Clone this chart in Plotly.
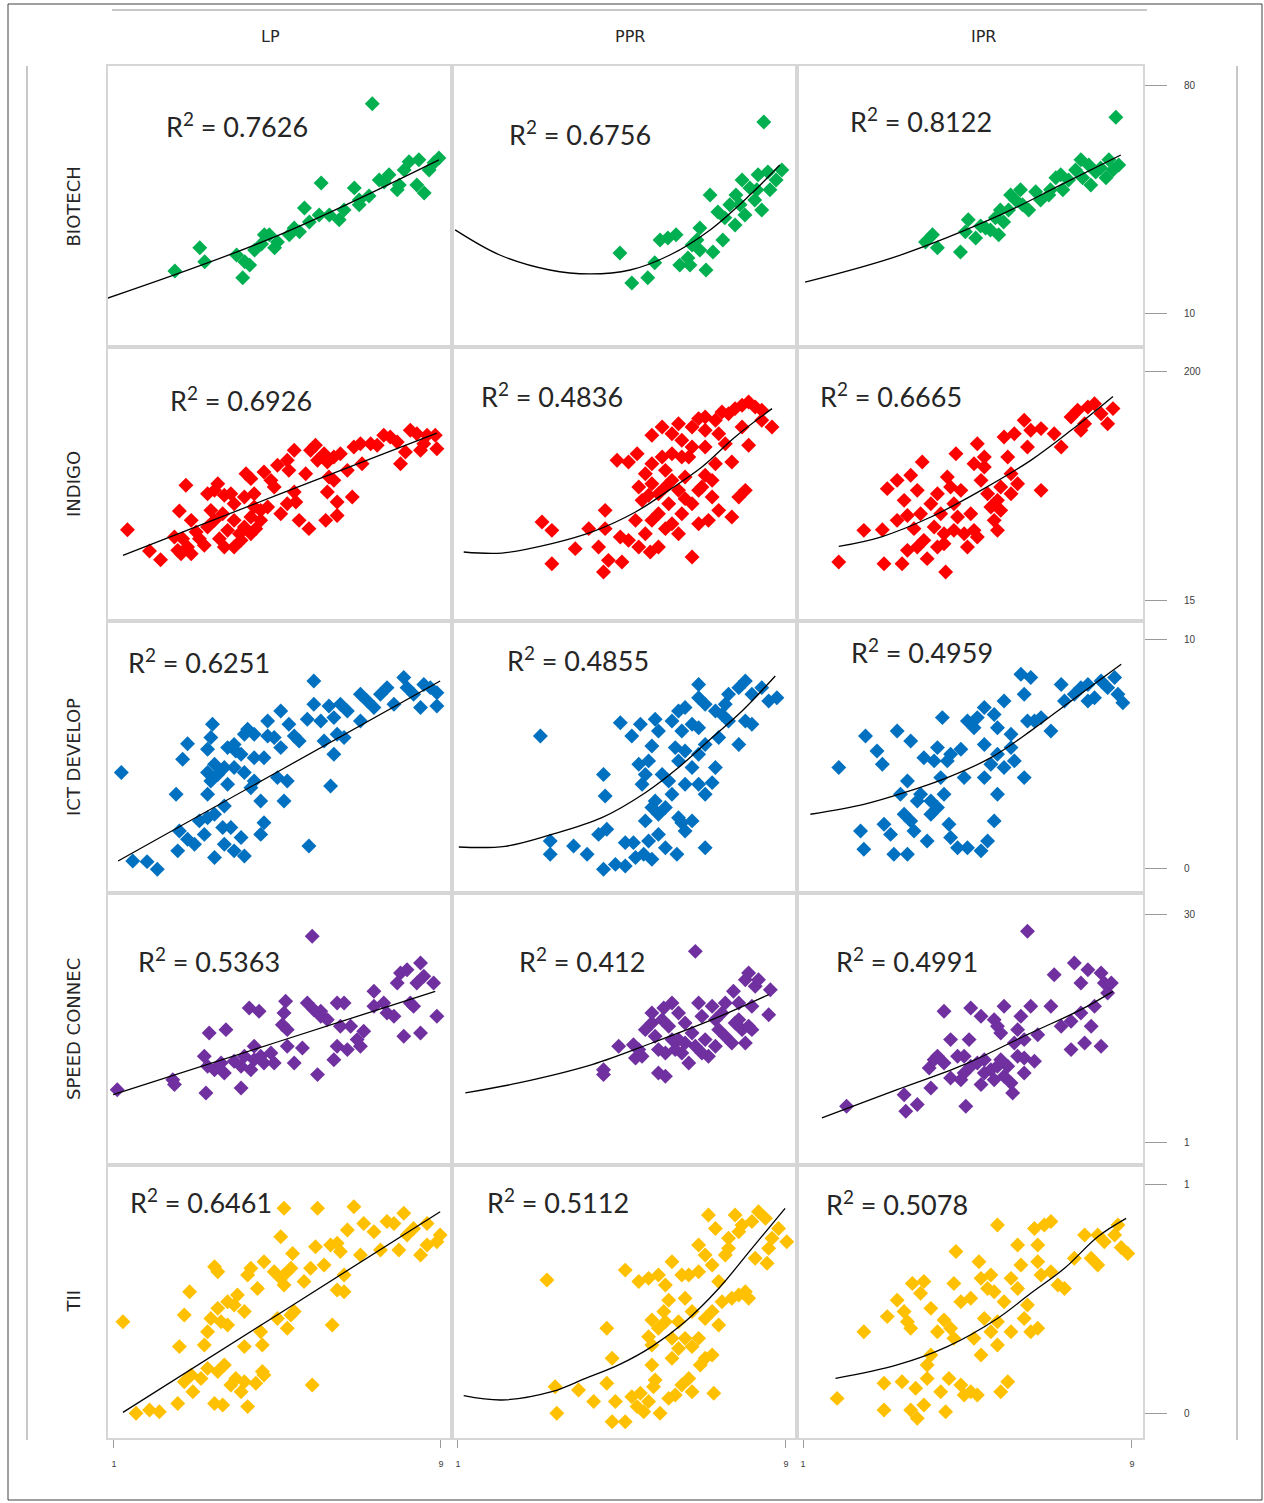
import plotly.graph_objects as go
from plotly.subplots import make_subplots

# ------------------------------------------------------------------ data
row_names = ["BIOTECH", "INDIGO", "ICT DEVELOP", "SPEED CONNEC", "TII"]
col_names = ["LP", "PPR", "IPR"]
r2_values = [["0.7626", "0.6756", "0.8122"],
             ["0.6926", "0.4836", "0.6665"],
             ["0.6251", "0.4855", "0.4959"],
             ["0.5363", "0.412", "0.4991"],
             ["0.6461", "0.5112", "0.5078"]]
row_colors = ["#00B050", "#FF0000", "#0070C0", "#7030A0", "#FFC000"]
y_tick_values = [[10, 80], [15, 200], [0, 10], [1, 30], [0, 1]]
x_tick_values = [1, 9]

# BIOTECH
bio_lp = [(2.49,23.2),(3.10,30.3),(3.22,26.0),(4.00,28.1),(4.15,21.1),(4.20,26.0),(4.44,29.6),(4.61,31.5),(4.80,34.3),(5.00,32.1),(5.29,34.3),(5.41,36.4),(5.78,38.2),(5.66,42.5),(6.07,50.2),(6.02,40.4),(6.27,40.4),(6.51,38.9),(6.63,41.9),(6.88,48.7),(7.00,45.0),(7.24,46.2),(7.32,74.5),(7.49,51.1),(7.73,52.7),(7.93,48.1),(8.10,54.2),(8.22,56.7),(8.46,57.3),(8.41,49.6),(8.59,47.1),(8.71,54.2),(8.83,56.4),(8.95,57.9),(7.98,49.6),(7.61,50.5),(7.00,43.5),(5.54,35.2),(4.93,30.3),(4.32,25.0),(4.68,34.3)]
bio_ppr = [(4.95,28.7),(5.24,19.5),(5.63,21.1),(5.80,25.7),(5.93,32.7),(6.12,33.3),(6.32,34.3),(6.41,25.0),(6.61,27.2),(6.71,31.2),(6.83,32.7),(6.90,36.4),(7.05,23.5),(7.15,46.5),(7.22,29.0),(7.34,41.3),(7.51,39.5),(7.63,43.5),(7.78,46.5),(7.93,51.1),(8.00,40.4),(8.12,48.7),(8.24,45.0),(8.32,52.7),(8.41,41.9),(8.56,53.6),(8.61,48.1),(8.76,51.1),(8.90,54.2),(8.46,68.9),(6.66,25.0),(6.90,29.6),(7.46,32.7),(7.88,43.5),(8.29,48.1),(7.76,37.3)]
bio_ipr = [(3.98,32.1),(4.15,34.3),(4.27,30.3),(4.83,29.0),(4.95,35.2),(5.02,38.9),(5.20,33.3),(5.32,37.0),(5.44,36.4),(5.56,35.8),(5.68,39.5),(5.76,34.3),(5.88,38.2),(6.00,41.9),(6.05,46.5),(6.17,45.0),(6.29,48.1),(6.34,43.5),(6.49,41.9),(6.66,47.5),(6.78,45.0),(6.98,46.5),(7.15,51.8),(7.32,48.1),(7.46,51.1),(7.63,54.2),(7.76,57.3),(7.80,51.8),(7.95,55.7),(8.00,49.6),(8.12,53.6),(8.24,54.8),(8.37,51.8),(8.44,57.3),(8.54,54.2),(8.68,55.7),(8.61,70.4),(7.02,48.1),(5.80,41.9),(7.27,52.7)]
bio_lp_trend = [(0.85,14.9),(4.90,33.5),(8.95,57.3)]
bio_ppr_trend = [(0.93,35.8),(2.02,28.1),(3.24,23.5),(4.22,22.3),(5.20,23.5),(6.17,28.1),(7.15,35.8),(8.12,46.5),(8.85,55.7)]
bio_ipr_trend = [(1.05,19.8),(3.37,28.1),(5.80,40.4),(7.27,49.6),(8.73,58.8)]

# INDIGO
ind_lp = [(1.33,72.0),(1.87,54.8),(2.14,47.7),(2.76,108.0),(2.60,87.2),(2.89,79.6),(2.64,52.6),(2.80,58.0),(2.68,64.8),(3.01,70.2),(3.21,59.4),(3.29,74.2),(3.46,79.6),(3.58,64.8),(3.66,85.0),(3.78,71.5),(3.94,79.6),(4.07,68.8),(4.19,74.2),(4.35,82.3),(4.47,72.9),(4.59,79.6),(3.46,103.9),(3.54,109.3),(3.70,99.9),(3.86,101.2),(3.29,101.2),(3.94,93.1),(4.23,117.4),(4.35,113.4),(4.19,98.5),(4.43,101.2),(4.67,118.8),(4.84,112.0),(4.92,106.6),(4.76,90.4),(5.08,85.0),(5.00,124.2),(5.24,128.2),(5.41,136.3),(5.28,120.1),(5.41,102.6),(5.24,93.1),(5.45,94.4),(5.53,79.6),(5.77,72.9),(5.69,117.4),(5.81,136.3),(5.93,140.4),(5.98,128.2),(6.14,133.6),(6.22,126.9),(6.38,130.9),(6.54,133.6),(6.71,120.1),(6.26,114.7),(6.38,112.0),(6.22,102.6),(6.46,94.4),(6.83,98.5),(6.46,83.6),(6.18,79.6),(6.87,139.0),(7.03,141.7),(7.07,125.5),(7.28,141.7),(7.44,140.4),(7.60,148.5),(7.76,147.1),(7.93,143.0),(8.01,125.5),(8.13,135.0),(8.25,152.5),(8.41,149.8),(8.50,136.3),(8.66,148.5),(8.86,148.5),(8.90,137.6),(8.58,141.7),(2.48,66.1),(2.56,55.3),(2.89,52.6),(3.09,64.8),(3.70,58.0),(3.94,58.0),(4.35,68.8),(4.59,87.7),(4.11,63.4),(3.37,87.7),(4.43,90.4)]
ind_ppr = [(3.05,78.3),(3.29,71.5),(3.29,44.5),(3.86,56.7),(4.19,72.9),(4.43,58.0),(4.59,87.7),(4.59,72.9),(4.67,47.2),(4.55,37.8),(5.00,45.9),(4.88,128.2),(5.16,126.9),(5.37,133.6),(4.96,66.1),(5.16,63.4),(5.33,79.6),(5.41,58.0),(5.69,54.0),(5.57,68.8),(5.73,79.6),(5.89,85.0),(6.06,72.9),(6.22,76.9),(5.73,148.5),(5.98,155.2),(6.22,149.8),(6.38,157.9),(6.46,144.4),(6.71,155.2),(6.87,162.0),(7.03,163.3),(7.28,160.6),(7.44,167.4),(7.60,166.0),(7.76,170.1),(7.93,172.8),(8.09,175.5),(8.25,171.4),(8.41,168.7),(8.66,155.2),(8.09,140.4),(7.68,126.9),(7.03,139.0),(6.71,139.0),(6.46,130.9),(6.22,133.6),(5.98,130.9),(5.73,125.5),(5.57,117.4),(5.73,109.3),(5.89,101.2),(5.65,99.9),(6.06,106.6),(6.22,112.0),(6.38,103.9),(6.54,97.2),(6.71,93.1),(6.46,85.0),(6.87,103.9),(7.03,116.1),(7.20,112.0),(7.20,98.5),(6.87,76.9),(7.11,79.6),(7.36,87.7),(7.68,82.3),(7.85,98.5),(8.01,103.9),(6.71,49.9),(5.49,95.8),(6.14,93.1),(5.89,58.0),(6.38,68.8),(6.63,130.9),(7.03,152.5),(7.36,149.8),(7.52,141.7),(7.93,155.2),(8.41,160.6),(7.28,125.5),(6.95,106.6),(6.06,120.1),(5.41,106.6),(6.54,114.7)]
ind_ipr = [(1.87,45.9),(2.48,71.5),(2.93,72.0),(2.97,44.5),(3.41,44.5),(4.02,48.6),(4.47,37.8),(3.05,105.3),(3.29,112.0),(3.46,95.8),(3.62,116.1),(3.78,103.9),(3.90,126.9),(3.54,83.6),(3.70,72.9),(3.86,85.0),(3.94,63.4),(3.54,55.3),(3.78,58.0),(4.19,74.2),(4.27,58.0),(4.43,68.8),(4.43,60.7),(4.35,85.0),(4.27,101.2),(4.51,114.7),(4.59,106.6),(4.67,93.1),(4.72,133.6),(4.84,103.9),(4.76,82.3),(4.92,68.8),(5.00,58.0),(5.16,71.5),(5.24,66.1),(5.08,85.0),(5.16,125.5),(5.24,141.7),(5.41,130.9),(5.33,112.0),(5.49,101.2),(5.57,90.4),(5.65,79.6),(5.73,71.5),(5.73,95.8),(5.81,106.6),(5.98,130.9),(6.06,117.4),(6.06,101.2),(5.89,147.1),(6.14,149.8),(6.38,160.6),(6.46,139.0),(6.54,152.5),(6.79,153.9),(7.11,149.8),(7.28,139.0),(6.79,103.9),(7.52,163.3),(7.68,168.7),(7.85,157.9),(7.93,171.4),(8.09,174.1),(8.25,166.0),(8.41,157.9),(8.54,170.1),(7.76,152.5),(6.22,109.3),(4.67,71.5),(4.11,93.1),(3.29,79.6),(5.41,122.8),(5.81,87.7)]
ind_lp_trend = [(1.22,51.3),(5.08,101.2),(8.90,150.3)]
ind_ppr_trend = [(1.14,54.0),(2.07,53.1),(3.29,60.7),(4.27,70.2),(5.33,86.4),(6.14,103.9),(6.95,122.8),(7.76,147.1),(8.66,170.1)]
ind_ipr_trend = [(1.87,58.5),(2.89,66.1),(4.11,82.3),(5.33,103.9),(6.54,128.2),(7.52,152.5),(8.54,180.0)]

# ICT DEVELOP
ict_lp = [(1.18,4.18),(1.46,0.32),(1.81,0.29),(2.06,-0.04),(2.52,3.23),(2.68,4.76),(2.80,5.44),(2.56,0.76),(2.60,1.63),(2.80,1.27),(2.97,1.05),(3.09,2.07),(3.21,1.48),(3.29,2.21),(3.46,2.36),(3.46,0.47),(3.66,1.78),(3.70,2.72),(3.70,1.05),(3.86,1.78),(3.94,0.76),(4.11,1.34),(4.19,0.54),(4.59,1.48),(4.67,1.99),(3.29,3.23),(3.37,3.81),(3.29,4.18),(3.46,4.54),(3.54,4.10),(3.70,4.40),(3.78,3.67),(3.94,4.40),(3.98,5.12),(4.11,4.98),(4.19,4.18),(4.35,3.52),(4.43,3.81),(4.59,2.94),(3.29,5.20),(3.37,5.71),(3.41,6.29),(3.78,5.27),(3.94,5.41),(4.19,5.85),(4.27,6.07),(4.43,4.83),(4.67,4.83),(4.76,6.43),(4.92,5.71),(5.08,5.27),(5.00,3.96),(5.24,3.81),(5.16,2.94),(5.08,6.87),(5.28,6.29),(5.41,5.78),(5.53,5.56),(5.73,6.51),(5.89,7.16),(5.89,8.18),(6.06,6.43),(6.14,5.56),(6.26,7.09),(6.38,6.58),(6.46,5.85),(6.54,7.16),(6.63,5.71),(6.38,4.98),(6.30,3.59),(5.77,0.97),(6.71,6.87),(7.03,7.60),(7.20,7.31),(7.36,7.02),(7.52,7.60),(7.68,7.89),(7.85,7.16),(8.09,8.33),(8.17,7.89),(8.33,7.60),(8.50,7.02),(8.58,8.03),(8.74,7.89),(8.90,7.67),(8.90,7.09),(7.03,6.43),(4.76,5.78),(4.43,5.85)]
ict_ppr = [(3.01,5.78),(3.25,1.19),(3.25,0.61),(3.82,0.97),(4.15,0.61),(4.55,4.10),(4.59,3.16),(4.43,1.48),(4.63,1.70),(4.55,-0.04),(4.84,0.17),(5.08,0.10),(5.08,1.12),(5.28,1.12),(5.33,0.47),(5.53,0.61),(5.57,2.07),(5.65,1.19),(5.73,0.39),(5.89,1.48),(6.06,0.90),(6.34,0.61),(6.46,1.99),(6.71,2.07),(6.54,1.63),(7.03,0.90),(4.96,6.36),(5.24,5.78),(5.45,6.29),(5.41,4.54),(5.49,3.67),(5.65,4.69),(5.73,5.34),(5.81,6.51),(5.89,6.00),(5.98,4.10),(6.14,3.81),(6.22,3.23),(5.81,2.94),(5.73,2.65),(6.06,2.65),(6.38,4.69),(6.54,5.12),(6.71,4.40),(6.87,3.67),(7.03,3.23),(7.20,3.74),(7.28,4.40),(6.87,4.98),(7.03,5.41),(7.36,5.71),(6.46,6.00),(6.71,6.29),(6.87,6.14),(6.22,6.43),(6.38,6.87),(6.54,7.02),(6.87,7.45),(7.03,7.16),(7.28,6.87),(7.52,7.16),(7.60,7.60),(7.85,7.89),(8.01,8.18),(8.17,7.60),(8.41,7.89),(8.58,7.31),(8.78,7.45),(8.17,6.29),(7.85,5.41),(7.60,6.43),(7.44,6.72),(6.87,8.03),(8.01,6.43),(6.30,5.27),(5.57,4.10),(5.89,2.36),(6.54,3.67),(6.38,2.21)]
ict_ipr = [(1.87,4.40),(2.40,1.63),(2.48,0.83),(2.52,5.78),(2.80,5.12),(2.93,4.54),(2.97,1.92),(3.13,1.48),(3.21,0.61),(3.29,6.00),(3.54,0.61),(3.62,5.56),(3.37,3.23),(3.54,3.81),(3.46,2.36),(3.62,2.07),(3.70,1.63),(3.94,4.83),(4.02,1.19),(4.11,2.36),(4.11,2.94),(4.19,4.69),(4.27,5.27),(4.35,3.96),(4.39,6.58),(4.43,3.23),(4.55,1.92),(4.59,1.34),(4.76,0.90),(5.00,0.90),(5.33,0.76),(5.49,1.19),(5.65,2.07),(5.73,3.23),(5.41,3.96),(4.92,3.96),(4.84,5.20),(5.00,6.43),(5.24,6.58),(5.41,7.02),(5.16,6.14),(5.41,5.41),(5.65,6.72),(5.73,6.14),(5.89,7.31),(5.73,4.98),(5.89,4.40),(6.06,5.85),(6.14,4.69),(6.38,3.96),(6.30,8.47),(6.54,8.33),(6.38,7.60),(6.46,6.43),(6.63,6.43),(6.79,6.58),(7.03,6.00),(7.28,8.03),(7.36,7.31),(7.60,7.60),(7.76,7.89),(7.93,8.03),(8.09,7.45),(8.25,8.18),(8.41,7.89),(8.58,8.33),(8.66,7.60),(8.78,7.23),(7.93,7.31),(4.27,2.65),(3.86,3.23),(4.59,4.98),(6.06,5.27),(5.57,4.54),(4.51,4.69),(3.78,2.94)]
ict_lp_trend = [(1.10,0.32),(5.04,4.25),(8.98,8.18)]
ict_ppr_trend = [(1.02,0.93),(2.15,0.96),(3.29,1.48),(4.51,2.21),(5.57,3.30),(6.38,4.40),(7.20,5.71),(7.93,6.87),(8.74,8.40)]
ict_ipr_trend = [(1.18,2.36),(2.48,2.79),(3.46,3.30),(4.51,3.96),(5.57,4.83),(6.54,6.00),(7.52,7.31),(8.74,8.91)]

# SPEED CONNEC
spd_lp = [(1.08,7.70),(2.44,8.97),(2.48,8.34),(3.25,7.28),(3.21,11.94),(3.33,14.90),(3.74,15.33),(3.29,10.67),(3.46,10.24),(3.62,11.09),(3.70,9.82),(4.11,7.91),(3.94,11.30),(4.11,10.67),(4.19,11.94),(4.35,10.24),(4.43,11.51),(4.43,13.21),(4.59,11.94),(4.67,11.09),(4.84,12.36),(4.92,11.09),(4.31,18.08),(4.55,17.66),(5.20,18.93),(5.16,17.45),(5.12,15.96),(5.24,15.33),(5.24,13.21),(5.61,13.00),(5.41,11.09),(5.73,18.72),(5.89,17.87),(5.98,9.61),(6.06,17.02),(6.22,16.60),(6.38,11.51),(6.46,18.72),(6.63,18.72),(6.46,13.21),(6.54,15.75),(6.71,12.79),(6.79,15.75),(6.95,14.06),(7.03,13.21),(7.11,15.12),(7.36,20.20),(7.36,18.29),(7.60,18.72),(7.68,17.45),(7.85,17.02),(7.93,21.26),(8.01,22.53),(8.09,14.48),(8.17,22.95),(8.25,18.72),(8.33,18.29),(8.41,21.26),(8.50,23.80),(8.58,22.11),(8.50,14.90),(8.82,21.26),(8.90,17.02),(6.06,17.66),(5.85,27.19)]
spd_ppr = [(6.79,25.28),(4.55,10.24),(4.55,9.61),(4.92,13.21),(5.28,13.42),(5.33,11.73),(5.49,11.94),(5.57,15.33),(5.73,16.17),(5.81,14.48),(5.89,12.79),(5.89,9.82),(6.06,9.39),(6.02,18.08),(6.22,18.72),(6.38,17.45),(6.14,15.75),(6.22,14.06),(6.30,12.79),(6.46,12.36),(6.54,13.63),(6.63,11.09),(6.54,16.17),(6.71,14.90),(6.87,18.72),(6.95,17.02),(6.79,13.21),(7.03,14.06),(7.11,11.94),(7.20,18.29),(7.28,16.60),(7.36,15.33),(7.44,17.45),(7.52,14.48),(7.68,13.63),(7.76,16.17),(7.85,16.60),(7.93,15.33),(8.01,13.63),(8.09,15.75),(8.17,15.33),(7.72,20.20),(7.85,18.72),(8.01,21.68),(8.09,22.53),(8.25,20.84),(8.33,21.68),(8.17,18.29),(8.62,20.41),(8.58,17.23),(7.52,18.72),(7.28,13.21),(5.73,17.45),(6.06,12.36),(6.38,14.06),(6.95,12.36),(5.41,12.79),(5.98,16.60)]
spd_ipr = [(2.06,5.58),(3.46,7.06),(3.50,4.95),(3.78,5.82),(4.11,7.91),(4.96,5.58),(4.07,10.45),(4.19,11.51),(4.27,11.94),(4.43,11.09),(4.59,9.18),(4.84,8.97),(4.92,11.94),(4.92,9.82),(5.08,10.67),(5.24,11.09),(5.33,8.34),(5.41,9.82),(5.57,10.24),(5.65,8.97),(5.73,10.67),(5.81,11.51),(5.89,9.39),(6.06,8.55),(6.10,7.28),(6.22,11.94),(6.38,9.82),(6.38,11.73),(6.63,11.30),(4.43,17.66),(4.59,14.06),(5.04,14.06),(5.08,18.08),(5.33,17.02),(5.65,16.60),(5.73,15.75),(5.81,14.90),(5.89,18.29),(6.22,15.33),(6.30,17.02),(6.38,14.06),(6.54,18.29),(6.71,14.69),(7.03,18.29),(7.11,22.32),(7.28,15.75),(7.52,16.39),(7.52,12.79),(7.60,23.80),(7.76,21.26),(7.76,17.45),(7.85,13.63),(7.93,22.95),(8.01,15.75),(8.09,18.29),(8.25,22.53),(8.25,13.21),(8.33,21.26),(8.41,20.00),(8.50,21.26),(4.76,11.94),(5.98,10.67),(5.41,11.51),(6.14,13.63),(6.46,27.83)]
spd_lp_trend = [(0.98,7.06),(4.92,13.63),(8.86,20.20)]
spd_ppr_trend = [(1.18,7.28),(2.48,8.55),(4.27,10.88),(5.73,13.63),(7.20,16.60),(8.58,19.78)]
spd_ipr_trend = [(1.46,4.10),(3.29,7.70),(4.92,10.88),(6.54,14.90),(7.76,17.87),(8.54,20.20)]

# TII
tii_lp = [(1.22,0.399),(1.54,-0.001),(1.87,0.013),(2.11,0.006),(2.56,0.042),(2.60,0.290),(2.72,0.428),(2.85,0.530),(3.46,0.639),(2.72,0.137),(2.89,0.166),(2.93,0.093),(3.13,0.151),(3.29,0.195),(3.54,0.181),(3.70,0.210),(3.46,0.042),(3.66,0.035),(3.86,0.122),(3.98,0.151),(4.11,0.093),(4.19,0.137),(4.27,0.028),(4.47,0.130),(4.63,0.181),(4.67,0.166),(3.21,0.297),(3.29,0.355),(3.37,0.413),(3.54,0.457),(3.62,0.399),(3.78,0.384),(3.94,0.472),(4.02,0.515),(4.19,0.443),(4.27,0.603),(4.35,0.632),(4.51,0.544),(4.19,0.290),(4.59,0.355),(4.63,0.297),(4.67,0.661),(4.92,0.617),(5.08,0.588),(5.16,0.559),(5.33,0.632),(5.00,0.413),(5.24,0.370),(5.33,0.428),(5.41,0.443),(5.08,0.770),(5.16,0.894),(5.37,0.697),(5.65,0.574),(5.81,0.632),(5.93,0.726),(5.98,0.894),(6.14,0.646),(6.30,0.734),(6.46,0.741),(6.54,0.705),(6.63,0.603),(6.46,0.537),(6.63,0.530),(6.34,0.384),(5.85,0.122),(6.71,0.799),(6.87,0.901),(7.03,0.690),(7.11,0.828),(7.36,0.792),(7.52,0.712),(7.68,0.836),(7.85,0.828),(7.97,0.712),(8.09,0.872),(8.17,0.777),(8.33,0.806),(8.50,0.690),(8.66,0.828),(8.66,0.734),(8.90,0.748),(8.98,0.777),(3.54,0.617),(3.78,0.486),(5.16,0.603)]
tii_ppr = [(3.17,0.581),(3.37,0.115),(3.41,-0.001),(3.94,0.101),(4.31,0.050),(4.63,0.370),(4.76,0.239),(4.63,0.130),(4.76,-0.038),(4.84,0.050),(5.08,-0.038),(5.24,0.071),(5.37,0.028),(5.45,0.086),(5.53,0.006),(5.65,0.050),(5.73,0.210),(5.77,0.115),(5.81,0.144),(5.93,-0.001),(6.14,0.064),(6.30,0.079),(6.46,0.122),(6.63,0.151),(6.71,0.093),(7.24,0.086),(6.91,0.210),(7.03,0.239),(7.20,0.253),(5.08,0.624),(5.41,0.574),(5.65,0.588),(5.89,0.603),(6.06,0.559),(6.22,0.661),(6.14,0.493),(6.02,0.443),(5.73,0.406),(5.65,0.333),(5.89,0.370),(6.22,0.326),(6.38,0.399),(6.54,0.326),(6.71,0.290),(6.87,0.326),(7.03,0.413),(7.20,0.443),(7.36,0.384),(7.44,0.486),(7.68,0.501),(7.85,0.515),(8.01,0.530),(8.09,0.501),(6.71,0.443),(6.54,0.501),(6.46,0.603),(6.63,0.603),(6.87,0.734),(7.11,0.865),(7.28,0.806),(7.03,0.690),(7.20,0.646),(7.36,0.574),(7.52,0.690),(7.60,0.763),(7.76,0.865),(7.85,0.792),(7.93,0.821),(8.17,0.836),(8.33,0.879),(8.50,0.850),(8.66,0.763),(8.82,0.806),(9.02,0.748),(8.58,0.719),(8.25,0.676),(8.54,0.654),(7.60,0.719),(6.87,0.617),(6.22,0.239),(5.73,0.297),(6.06,0.399),(6.38,0.282)]
tii_ipr = [(1.83,0.064),(2.48,0.355),(2.97,0.130),(2.97,0.013),(3.05,0.421),(3.29,0.493),(3.41,0.137),(3.46,0.443),(3.54,0.399),(3.62,0.370),(3.66,0.566),(3.86,0.523),(3.94,0.574),(3.62,0.013),(3.74,0.108),(3.78,-0.023),(3.94,0.035),(4.02,0.151),(4.02,0.210),(4.11,0.253),(4.11,0.457),(4.35,0.093),(4.43,0.406),(4.47,0.006),(4.55,0.151),(4.59,0.370),(4.67,0.326),(4.72,0.705),(4.67,0.566),(4.84,0.486),(4.84,0.122),(4.92,0.079),(5.08,0.093),(5.24,0.079),(5.33,0.253),(5.16,0.326),(5.08,0.501),(5.28,0.661),(5.33,0.588),(5.41,0.413),(5.49,0.544),(5.57,0.603),(5.65,0.530),(5.73,0.399),(5.73,0.297),(5.81,0.093),(5.98,0.137),(5.89,0.486),(6.06,0.588),(6.22,0.544),(6.22,0.734),(6.30,0.646),(6.38,0.413),(6.46,0.472),(6.54,0.355),(6.63,0.806),(6.71,0.734),(6.71,0.661),(6.79,0.603),(6.87,0.821),(7.03,0.836),(7.03,0.617),(7.20,0.559),(7.36,0.544),(6.71,0.370),(7.60,0.676),(7.85,0.777),(8.01,0.676),(8.17,0.646),(8.17,0.777),(8.33,0.748),(8.58,0.777),(8.66,0.821),(8.74,0.723),(8.90,0.697),(5.73,0.821),(6.06,0.355),(5.57,0.355),(4.27,0.355)]
tii_lp_trend = [(1.22,0.003),(5.08,0.438),(8.98,0.879)]
tii_ppr_trend = [(1.14,0.076),(2.07,0.057),(3.29,0.093),(4.11,0.151),(4.92,0.210),(5.73,0.290),(6.54,0.399),(7.36,0.544),(8.17,0.719),(8.98,0.894)]
tii_ipr_trend = [(1.79,0.151),(3.29,0.210),(4.51,0.290),(5.73,0.413),(6.54,0.523),(7.36,0.632),(8.17,0.770),(8.86,0.850)]

scatter_grid = [[bio_lp, bio_ppr, bio_ipr],
                [ind_lp, ind_ppr, ind_ipr],
                [ict_lp, ict_ppr, ict_ipr],
                [spd_lp, spd_ppr, spd_ipr],
                [tii_lp, tii_ppr, tii_ipr]]
trend_grid = [[bio_lp_trend, bio_ppr_trend, bio_ipr_trend],
              [ind_lp_trend, ind_ppr_trend, ind_ipr_trend],
              [ict_lp_trend, ict_ppr_trend, ict_ipr_trend],
              [spd_lp_trend, spd_ppr_trend, spd_ipr_trend],
              [tii_lp_trend, tii_ppr_trend, tii_ipr_trend]]

# ------------------------------------------------------------------ layout
W, H = 1264, 1503
col_px = [(108, 452), (452, 797), (797, 1143)]
row_px = [(66, 347), (347, 621), (621, 893), (893, 1165), (1165, 1438)]
x_range = [0.854, 9.27]
y_ranges = [[-0.13, 86.1], [-1.9, 220.0], [-1.08, 10.8], [-1.88, 32.7], [-0.109, 1.083]]
r2_pos = [[(0.375, 0.79), (0.371, 0.762), (0.358, 0.808)],
          [(0.387, 0.81), (0.29, 0.825), (0.272, 0.825)],
          [(0.265, 0.853), (0.365, 0.86), (0.361, 0.89)],
          [(0.294, 0.754), (0.377, 0.754), (0.318, 0.754)],
          [(0.27, 0.868), (0.307, 0.868), (0.289, 0.861)]]
header_x = [270, 630, 983]

fig = make_subplots(rows=5, cols=3, horizontal_spacing=0, vertical_spacing=0)

annotations = []
for r in range(5):
    for c in range(3):
        pts = scatter_grid[r][c]
        fig.add_trace(go.Scatter(
            x=[p[0] for p in pts], y=[p[1] for p in pts], mode="markers",
            marker=dict(symbol="diamond", size=11.5, color=row_colors[r],
                        line=dict(width=0)),
            showlegend=False, hoverinfo="skip"), row=r + 1, col=c + 1)
        tr = trend_grid[r][c]
        fig.add_trace(go.Scatter(
            x=[p[0] for p in tr], y=[p[1] for p in tr], mode="lines",
            line=dict(color="#000000", width=1.3, shape="spline", smoothing=1.0),
            showlegend=False, hoverinfo="skip"), row=r + 1, col=c + 1)

        i = r * 3 + c + 1
        xa = "xaxis" if i == 1 else f"xaxis{i}"
        ya = "yaxis" if i == 1 else f"yaxis{i}"
        xl, xr = col_px[c]
        yt, yb = row_px[r]
        xdict = dict(domain=[xl / W, xr / W], range=x_range, showgrid=False,
                     zeroline=False, showline=True, mirror=True,
                     linecolor="#d6d6d6", linewidth=2, showticklabels=False,
                     ticks="")
        if r == 4:
            xdict.update(ticks="outside", tickvals=x_tick_values, ticklen=8,
                         tickcolor="#9a9a9a", tickwidth=1, showticklabels=True,
                         ticklabelstandoff=8,
                         tickfont=dict(size=9, color="#404040", family="Arial"))
        ydict = dict(domain=[1 - yb / H, 1 - yt / H], range=y_ranges[r],
                     showgrid=False, zeroline=False, showline=True, mirror=True,
                     linecolor="#d6d6d6", linewidth=2, showticklabels=False,
                     ticks="")
        if c == 2:
            ydict.update(side="right", ticks="outside", tickvals=y_tick_values[r],
                         ticklen=22, tickcolor="#9a9a9a", tickwidth=1,
                         showticklabels=True, ticklabelstandoff=15,
                         tickfont=dict(size=10, color="#404040", family="Arial"))
        fig.update_layout({xa: xdict, ya: ydict})

        xref = "x domain" if i == 1 else f"x{i} domain"
        yref = "y domain" if i == 1 else f"y{i} domain"
        fx, fy = r2_pos[r][c]
        annotations.append(dict(
            text=f"R<sup>2</sup> = {r2_values[r][c]}", x=fx, y=fy,
            xref=xref, yref=yref, xanchor="center", yanchor="middle",
            showarrow=False, font=dict(family="Lato", size=27, color="#262626")))

for c in range(3):
    annotations.append(dict(text=col_names[c], x=header_x[c] / W, y=1 - 37 / H,
                            xref="paper", yref="paper", showarrow=False,
                            xanchor="center", yanchor="middle",
                            font=dict(family="DejaVu Sans", size=16, color="#262626")))
for r in range(5):
    yt, yb = row_px[r]
    annotations.append(dict(text=row_names[r], x=73 / W, y=1 - (yt + yb) / 2 / H,
                            xref="paper", yref="paper", showarrow=False,
                            textangle=-90, xanchor="center", yanchor="middle",
                            font=dict(family="DejaVu Sans", size=18, color="#262626")))

shapes = [
    dict(type="rect", xref="paper", yref="paper", x0=8 / W, x1=1262 / W,
         y0=1 - 1500 / H, y1=1 - 4 / H, line=dict(color="#404040", width=1)),
    dict(type="line", xref="paper", yref="paper", x0=112 / W, x1=1147 / W,
         y0=1 - 10 / H, y1=1 - 10 / H, line=dict(color="#c8c8c8", width=2)),
    dict(type="line", xref="paper", yref="paper", x0=27 / W, x1=27 / W,
         y0=1 - 66 / H, y1=1 - 1440 / H, line=dict(color="#c8c8c8", width=2)),
    dict(type="line", xref="paper", yref="paper", x0=1237 / W, x1=1237 / W,
         y0=1 - 66 / H, y1=1 - 1440 / H, line=dict(color="#c8c8c8", width=2)),
]

fig.update_layout(width=W, height=H, margin=dict(l=0, r=0, t=0, b=0),
                  paper_bgcolor="white", plot_bgcolor="white",
                  annotations=annotations, shapes=shapes, showlegend=False)

fig.write_html("out.html")
